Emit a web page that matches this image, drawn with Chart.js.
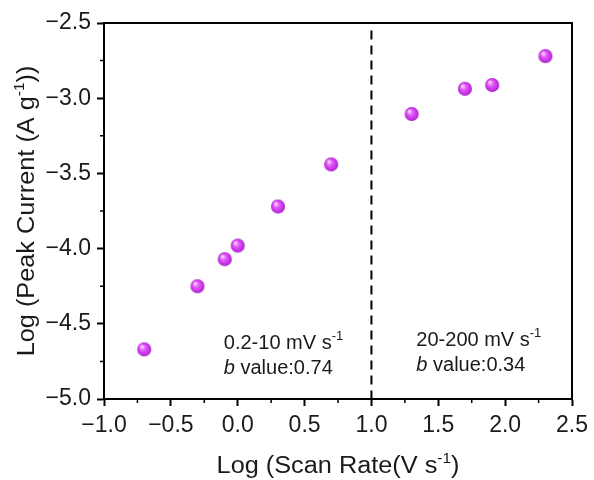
<!DOCTYPE html>
<html>
<head>
<meta charset="utf-8">
<script src="https://cdn.jsdelivr.net/npm/chart.js@4.4.1/dist/chart.umd.min.js"></script>
<style>
  html, body { margin: 0; padding: 0; background: #fff; }
  #wrap { width: 594px; height: 480px; }
</style>
</head>
<body>
<div id="wrap"><canvas id="chart" width="594" height="480"></canvas></div>
<script>
// log of scan rate (0.2, 0.5, 0.8, 1, 2, 5, 20, 50, 80, 200 mV/s)
const logScanRate = [-0.699, -0.301, -0.097, 0.0, 0.301, 0.699, 1.301, 1.699, 1.903, 2.301];
const logPeakCurrent = [-4.67, -4.25, -4.07, -3.98, -3.72, -3.44, -3.105, -2.937, -2.912, -2.72];

// vertical divider between the two regions
const dividerX = [1.0, 1.0];
const dividerY = [-2.55, -5.0];

// region notes
const noteRanges = ['0.2-10 mV s', '20-200 mV s'];
const noteBValues = ['0.74', '0.34'];
const noteX = [-0.104, 1.336];
const noteY1 = [-4.628, -4.61];
const noteY2 = [-4.794, -4.776];

const xTitle = 'Log (Scan Rate(V s';
const yTitle = 'Log (Peak Current (A g';

const FONT = '"Liberation Sans", Arial, sans-serif';

// little shaded ball used as the marker
const makeBall = (r) => {
    let c = document.createElement('canvas');
    c.width = r * 2 + 2;
    c.height = r * 2 + 2;
    let g = c.getContext('2d');
    let cx = r + 1, cy = r + 1;
    let grad = g.createRadialGradient(cx - r * 0.35, cy - r * 0.4, r * 0.1, cx, cy, r);
    grad.addColorStop(0, '#fbd6ff');
    grad.addColorStop(0.35, '#e35cf7');
    grad.addColorStop(0.8, '#c62fe6');
    grad.addColorStop(1, '#a01fc0');
    g.fillStyle = grad;
    g.beginPath();
    g.arc(cx, cy, r, 0, Math.PI * 2);
    g.fill();
    return c;
};

const minus = (v) => String(v.toFixed(1)).replace('-', '\u2212');

// axis title with a "-1" superscript in the middle
const drawTitle = (ctx, main, tail, size) => {
    ctx.font = size + 'px ' + FONT;
    let w1 = ctx.measureText(main).width;
    let w3 = ctx.measureText(tail).width;
    ctx.font = Math.round(size * 0.62) + 'px ' + FONT;
    let w2 = ctx.measureText('-1').width;
    let sx = -(w1 + w2 + w3) / 2;
    ctx.textAlign = 'left';
    ctx.font = size + 'px ' + FONT;
    ctx.fillText(main, sx, 0);
    ctx.font = Math.round(size * 0.62) + 'px ' + FONT;
    ctx.fillText('-1', sx + w1, -8);
    ctx.font = size + 'px ' + FONT;
    ctx.fillText(tail, sx + w1 + w2, 0);
};

const decorations = {
    id: 'decorations',
    afterDraw(chart) {
        const ctx = chart.ctx;
        const a = chart.chartArea;
        const xs = chart.scales.x, ys = chart.scales.y;
        ctx.save();

        // frame
        ctx.strokeStyle = '#000';
        ctx.lineWidth = 2;
        ctx.strokeRect(a.left, a.top, a.right - a.left, a.bottom - a.top);

        // minor ticks
        ctx.lineWidth = 1.5;
        ctx.beginPath();
        for (let v = -0.75; v < 2.5; v += 0.5) {
            let px = xs.getPixelForValue(v);
            ctx.moveTo(px, a.bottom);
            ctx.lineTo(px, a.bottom + 4);
        }
        for (let v = -4.75; v < -2.5; v += 0.5) {
            let py = ys.getPixelForValue(v);
            ctx.moveTo(a.left, py);
            ctx.lineTo(a.left - 4, py);
        }
        ctx.stroke();

        ctx.fillStyle = '#1a1a1a';
        ctx.textBaseline = 'middle';

        // x axis title
        ctx.save();
        ctx.translate((a.left + a.right) / 2, 467);
        ctx.scale(1.1, 1);
        drawTitle(ctx, xTitle, ')', 23);
        ctx.restore();

        // y axis title
        ctx.save();
        ctx.translate(28, (a.top + a.bottom) / 2);
        ctx.rotate(-Math.PI / 2);
        ctx.scale(1.1, 1);
        drawTitle(ctx, yTitle, '))', 23);
        ctx.restore();

        // region notes
        ctx.textAlign = 'left';
        for (let i = 0; i < noteRanges.length; i++) {
            let px = xs.getPixelForValue(noteX[i]);
            let py1 = ys.getPixelForValue(noteY1[i]);
            let py2 = ys.getPixelForValue(noteY2[i]);
            ctx.font = '20px ' + FONT;
            ctx.fillText(noteRanges[i], px, py1);
            let w = ctx.measureText(noteRanges[i]).width;
            ctx.font = '13px ' + FONT;
            ctx.fillText('-1', px + w, py1 - 7);
            ctx.font = 'italic 20px ' + FONT;
            ctx.fillText('b', px, py2);
            let wb = ctx.measureText('b').width;
            ctx.font = '20px ' + FONT;
            ctx.fillText(' value:' + noteBValues[i], px + wb, py2);
        }
        ctx.restore();
    }
};

const points = logScanRate.map((v, i) => ({ x: v, y: logPeakCurrent[i] }));
const divider = dividerX.map((v, i) => ({ x: v, y: dividerY[i] }));

const axisGrid = {
    drawOnChartArea: false,
    drawTicks: true,
    tickLength: 7,
    tickWidth: 2,
    tickColor: '#000',
    color: '#000'
};

const initChart = (el) => {
    return new Chart(el, {
        type: 'scatter',
        data: {
            datasets: [{
                label: 'peak current',
                data: points,
                pointStyle: makeBall(7),
                pointRadius: 7,
                order: 1
            }, {
                label: 'divider',
                data: divider,
                showLine: true,
                pointRadius: 0,
                borderColor: '#000',
                borderWidth: 2,
                borderDash: [9, 6],
                order: 2
            }]
        },
        options: {
            responsive: false,
            animation: false,
            events: [],
            layout: { padding: { top: 23, right: 21, left: 0, bottom: 0 } },
            plugins: { legend: { display: false }, tooltip: { enabled: false } },
            scales: {
                x: {
                    type: 'linear',
                    min: -1.0,
                    max: 2.5,
                    grid: axisGrid,
                    border: { display: true, color: '#000', width: 2 },
                    ticks: {
                        stepSize: 0.5,
                        padding: 6,
                        color: '#1a1a1a',
                        font: { family: FONT, size: 23 },
                        callback: (v) => minus(v)
                    },
                    afterFit: (s) => { s.height = 81; }
                },
                y: {
                    type: 'linear',
                    min: -5.0,
                    max: -2.5,
                    grid: axisGrid,
                    border: { display: true, color: '#000', width: 2 },
                    ticks: {
                        stepSize: 0.5,
                        padding: 6,
                        color: '#1a1a1a',
                        font: { family: FONT, size: 23 },
                        callback: (v) => minus(v)
                    },
                    afterFit: (s) => { s.width = 104; }
                }
            }
        },
        plugins: [decorations]
    });
};

document.addEventListener('DOMContentLoaded', function () {
    initChart(document.getElementById('chart'));
});
</script>
</body>
</html>
